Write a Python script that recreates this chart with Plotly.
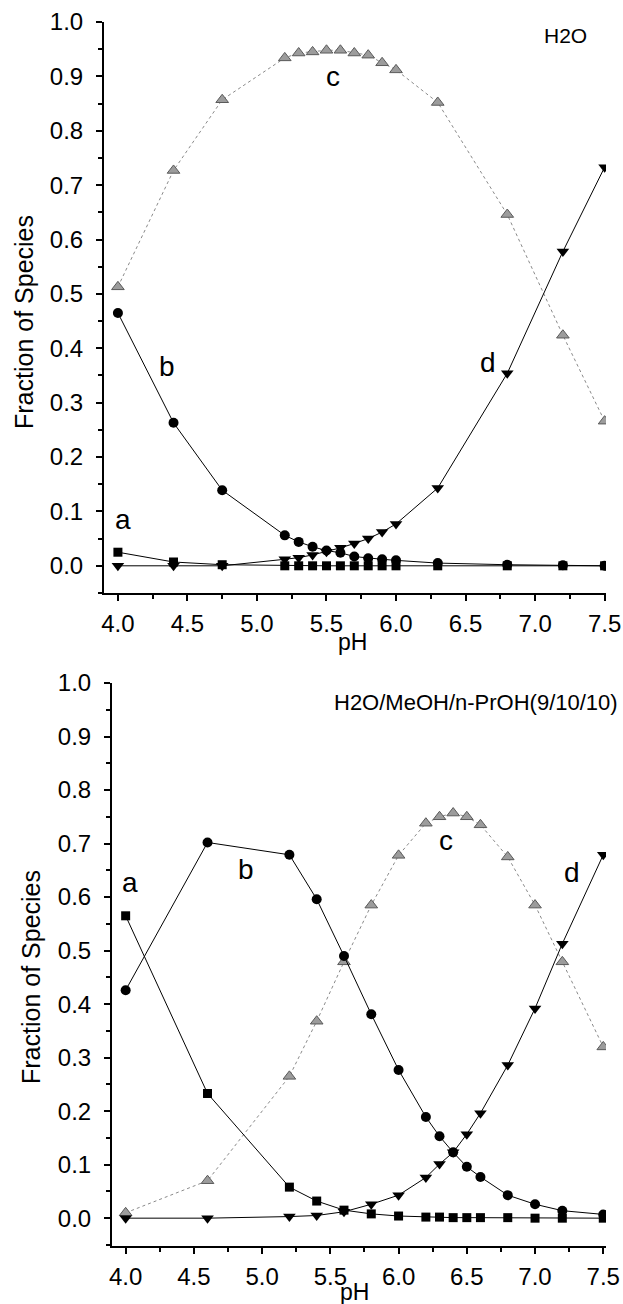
import plotly.graph_objects as go

W, H = 623, 1304

# ---------------- Top panel (H2O) ----------------
ph_top = [4.0, 4.4, 4.75, 5.2, 5.3, 5.4, 5.5, 5.6, 5.7, 5.8, 5.9, 6.0, 6.3, 6.8, 7.2, 7.5]
a_top = [0.025, 0.007, 0.002, 0.0, 0.0, 0.0, 0.0, 0.0, 0.0, 0.0, 0.0, 0.0, 0.0, 0.0, 0.0, 0.0]
b_top = [0.465, 0.263, 0.139, 0.056, 0.044, 0.035, 0.028, 0.024, 0.017, 0.014, 0.012, 0.010, 0.005, 0.002, 0.001, 0.0]
c_top = [0.513, 0.727, 0.857, 0.934, 0.943, 0.945, 0.948, 0.948, 0.943, 0.939, 0.925, 0.912, 0.852, 0.646, 0.424, 0.266]
d_top = [0.0, 0.0, 0.0, 0.012, 0.015, 0.020, 0.026, 0.033, 0.041, 0.050, 0.062, 0.077, 0.143, 0.354, 0.578, 0.733]

# ---------------- Bottom panel (H2O/MeOH/n-PrOH) ----------------
ph_bot = [4.0, 4.6, 5.2, 5.4, 5.6, 5.8, 6.0, 6.2, 6.3, 6.4, 6.5, 6.6, 6.8, 7.0, 7.2, 7.5]
a_bot = [0.565, 0.233, 0.058, 0.032, 0.015, 0.008, 0.004, 0.002, 0.002, 0.001, 0.001, 0.001, 0.001, 0.0, 0.0, 0.0]
b_bot = [0.426, 0.702, 0.679, 0.596, 0.490, 0.381, 0.277, 0.189, 0.153, 0.123, 0.096, 0.077, 0.043, 0.026, 0.014, 0.007]
c_bot = [0.010, 0.070, 0.265, 0.368, 0.479, 0.585, 0.678, 0.738, 0.750, 0.757, 0.750, 0.735, 0.675, 0.585, 0.479, 0.320]
d_bot = [0.0, 0.0, 0.003, 0.005, 0.012, 0.026, 0.043, 0.076, 0.101, 0.123, 0.157, 0.196, 0.286, 0.392, 0.513, 0.679]

species_labels = ["a", "b", "c", "d"]
panel_titles = ["H2O", "H2O/MeOH/n-PrOH(9/10/10)"]
x_tick_vals = [4.0, 4.5, 5.0, 5.5, 6.0, 6.5, 7.0, 7.5]

FONT = "Liberation Sans, Arial, sans-serif"

fig = go.Figure()

def add_panel(xs, a, b, c, d, xa, ya):
    common = dict(xaxis=xa, yaxis=ya, showlegend=False, mode="lines+markers", hoverinfo="skip")
    fig.add_trace(go.Scatter(x=xs, y=c, line=dict(color="#8a8a8a", width=1, dash="dot"),
                             marker=dict(symbol="triangle-up", size=11, color="#9c9c9c",
                                         line=dict(color="#5a5a5a", width=1)), **common))
    fig.add_trace(go.Scatter(x=xs, y=a, line=dict(color="black", width=1),
                             marker=dict(symbol="square", size=9, color="black"), **common))
    fig.add_trace(go.Scatter(x=xs, y=b, line=dict(color="black", width=1),
                             marker=dict(symbol="circle", size=10, color="black"), **common))
    fig.add_trace(go.Scatter(x=xs, y=d, line=dict(color="black", width=1),
                             marker=dict(symbol="triangle-down", size=11, color="black"), **common))

add_panel(ph_top, a_top, b_top, c_top, d_top, "x", "y")
add_panel(ph_bot, a_bot, b_bot, c_bot, d_bot, "x2", "y2")

def px_x(p):
    return p / W

def px_y(p):
    return 1 - p / H

axis_common = dict(showline=True, linecolor="black", linewidth=2, ticks="outside",
                   ticklen=6, tickwidth=2, tickcolor="black", showgrid=False, zeroline=False,
                   tickfont=dict(family=FONT, size=24, color="black"), mirror=False,
                   automargin=False)

xa_common = dict(axis_common, tickmode="array", tickvals=x_tick_vals, tickformat=".1f",
                 ticklabelstandoff=2,
                 minor=dict(ticks="outside", ticklen=4, tickwidth=1.5, tickcolor="black", dtick=0.25, tick0=4.0))
ya_common = dict(axis_common, dtick=0.1, tick0=0, tickformat=".1f", ticklabelstandoff=8,
                 minor=dict(ticks="outside", ticklen=4, tickwidth=1.5, tickcolor="black", dtick=0.05, tick0=0))

fig.update_layout(
    width=W, height=H, margin=dict(l=0, r=0, t=0, b=0, pad=0, autoexpand=False),
    paper_bgcolor="white", plot_bgcolor="white",
    font=dict(family=FONT, color="black"),
    xaxis=dict(xa_common, domain=[px_x(104), px_x(606)], range=[3.9, 7.51], anchor="y"),
    yaxis=dict(ya_common, domain=[px_y(593), px_y(22)], range=[-0.05, 1.0], anchor="x"),
    xaxis2=dict(xa_common, domain=[px_x(112), px_x(606)], range=[3.9, 7.52], anchor="y2"),
    yaxis2=dict(ya_common, domain=[px_y(1246), px_y(683)], range=[-0.052, 1.0], anchor="x2"),
)

ann = []
top_pos = [(4.04, 0.085), (4.35, 0.366), (5.55, 0.90), (6.66, 0.373)]
bot_pos = [(4.03, 0.628), (4.88, 0.652), (6.35, 0.706), (7.27, 0.645)]
for lab, (x, y) in zip(species_labels, top_pos):
    ann.append(dict(x=x, y=y, xref="x", yref="y", text=lab, showarrow=False,
                    font=dict(family=FONT, size=28, color="black")))
for lab, (x, y) in zip(species_labels, bot_pos):
    ann.append(dict(x=x, y=y, xref="x2", yref="y2", text=lab, showarrow=False,
                    font=dict(family=FONT, size=28, color="black")))

ann.append(dict(x=7.22, y=0.976, xref="x", yref="y", text=panel_titles[0], showarrow=False,
                font=dict(family=FONT, size=21, color="black")))
ann.append(dict(x=px_x(620), y=px_y(702), xref="paper", yref="paper", text=panel_titles[1],
                showarrow=False, xanchor="right", yanchor="middle",
                font=dict(family=FONT, size=22, color="black")))

for cx, cy in [(24, 322), (31, 977)]:
    ann.append(dict(x=px_x(cx), y=px_y(cy), xref="paper", yref="paper", text="Fraction of Species",
                    textangle=-90, showarrow=False, xanchor="center", yanchor="middle",
                    font=dict(family=FONT, size=25, color="black")))
for cx, cy in [(352, 642), (354, 1292)]:
    ann.append(dict(x=px_x(cx), y=px_y(cy), xref="paper", yref="paper", text="pH",
                    showarrow=False, xanchor="center", yanchor="middle",
                    font=dict(family=FONT, size=23, color="black")))

fig.update_layout(annotations=ann)

fig.write_html("out.html", config={"displayModeBar": False},
               post_script="document.body.style.margin='0';document.body.style.overflow='hidden';")
